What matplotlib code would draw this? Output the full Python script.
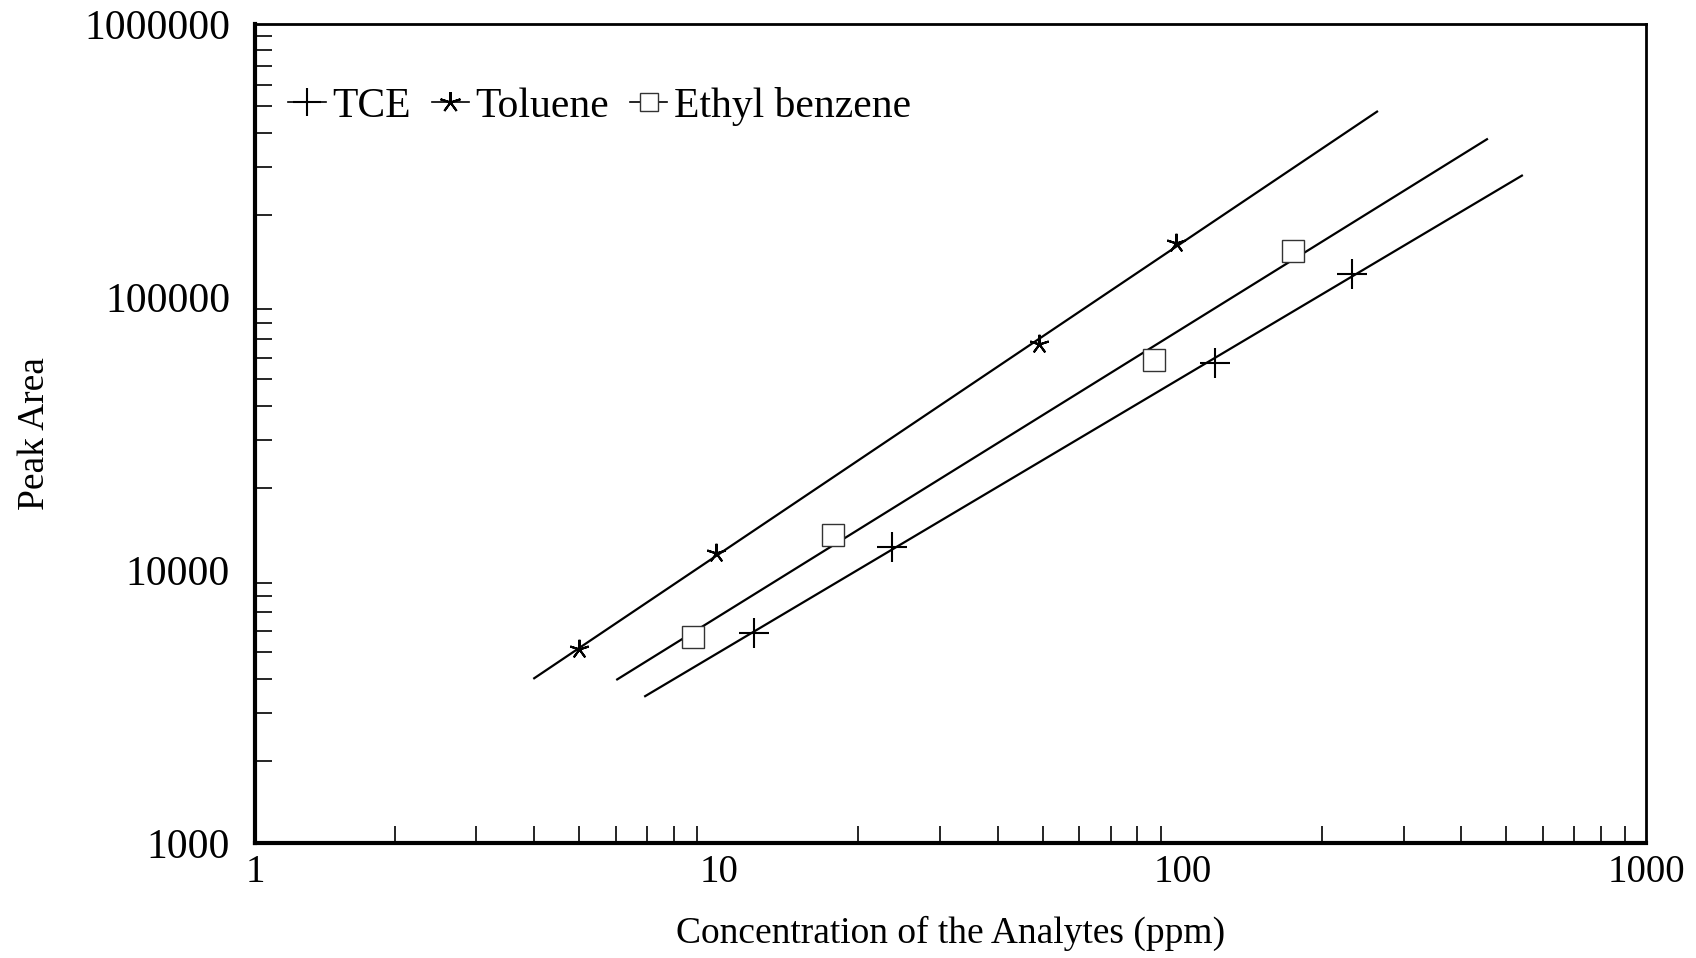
import numpy as np
import matplotlib
matplotlib.use("Agg")
import matplotlib.pyplot as plt
from matplotlib.ticker import FixedLocator, LogLocator, NullFormatter

plt.rcParams['font.family'] = ['Liberation Serif', 'DejaVu Serif']

# Measured calibration points (concentration in ppm, peak area)
tce_conc = [11.9, 23.6, 117.5, 232]
tce_area = [5870, 12190, 57500, 121600]

toluene_conc = [5, 9.85, 49, 97]
toluene_area = [5120, 11540, 67200, 157000]

ethyl_conc = [8.8, 17.6, 87, 173]
ethyl_area = [5660, 13480, 58600, 147000]

# Concentration range covered by each fitted calibration line
fit_start = {"TCE": 6.94, "Toluene": 4.0, "Ethyl benzene": 6.04}
fit_end = {"TCE": 540, "Toluene": 263, "Ethyl benzene": 454}

x_ticks = [1, 10, 100, 1000]
y_ticks = [1000, 10000, 100000, 1000000]

fig = plt.figure(figsize=(16.96, 9.58), dpi=100)
ax = fig.add_axes([0.1504, 0.12, 0.8201, 0.855])
ax.set_xscale('log')
ax.set_yscale('log')


def draw_series(name, conc, area, marker, ms, mew, mfc='none', mec='black',
                legend_ms=None):
    lx = np.log10(conc)
    ly = np.log10(area)
    slope, intercept = np.polyfit(lx, ly, 1)
    xs = np.array([fit_start[name], fit_end[name]])
    ys = 10 ** (intercept + slope * np.log10(xs))
    ax.plot(xs, ys, color='black', lw=1.6, zorder=2)
    ax.plot(conc, area, linestyle='none', marker=marker, ms=ms, mew=mew,
            mfc=mfc, mec=mec, zorder=3)
    # legend proxy: short line through the marker
    h, = ax.plot([], [], color='black', lw=1.2, marker=marker,
                 ms=legend_ms if legend_ms else ms * 0.85,
                 mew=mew, mfc=mfc, mec=mec, label=name)
    return h


h1 = draw_series("TCE", tce_conc, tce_area, '+', 22, 1.5, legend_ms=20)
h2 = draw_series("Toluene", toluene_conc, toluene_area, (5, 2, 0), 14, 1.5,
                 legend_ms=15)
h3 = draw_series("Ethyl benzene", ethyl_conc, ethyl_area, 's', 16, 1.0,
                 mfc='white', mec='#333333', legend_ms=13)

ax.set_xlim(1, 1000)
ax.set_ylim(1000, 1000000)

ax.xaxis.set_major_locator(FixedLocator(x_ticks))
ax.yaxis.set_major_locator(FixedLocator(y_ticks))
ax.set_xticklabels([f"{v:g}" for v in x_ticks])
ax.set_yticklabels([f"{v:d}" for v in y_ticks])
ax.xaxis.set_minor_locator(LogLocator(base=10, subs=np.arange(2, 10)))
ax.yaxis.set_minor_locator(LogLocator(base=10, subs=np.arange(2, 10)))
ax.xaxis.set_minor_formatter(NullFormatter())
ax.yaxis.set_minor_formatter(NullFormatter())

ax.tick_params(axis='both', which='both', direction='in', top=False, right=False,
               width=1.2, color='black')
ax.tick_params(axis='both', which='major', length=0)
ax.tick_params(axis='both', which='minor', length=12)
ax.tick_params(axis='x', which='major', pad=8, labelsize=28)
ax.tick_params(axis='y', which='major', pad=18, labelsize=30)

for side in ['left', 'bottom']:
    ax.spines[side].set_linewidth(3.0)
for side in ['top', 'right']:
    ax.spines[side].set_linewidth(2.0)

ax.set_xlabel("Concentration of the Analytes (ppm)", fontsize=27, labelpad=18)
ax.set_ylabel("Peak Area", fontsize=27, labelpad=23)

ax.legend(handles=[h1, h2, h3], loc='upper left', ncol=3, frameon=False,
          fontsize=30, handlelength=0.9, handletextpad=0.15, columnspacing=0.5,
          borderaxespad=0.4, bbox_to_anchor=(0.0, 0.964))

fig.savefig("out.png", dpi=100)
